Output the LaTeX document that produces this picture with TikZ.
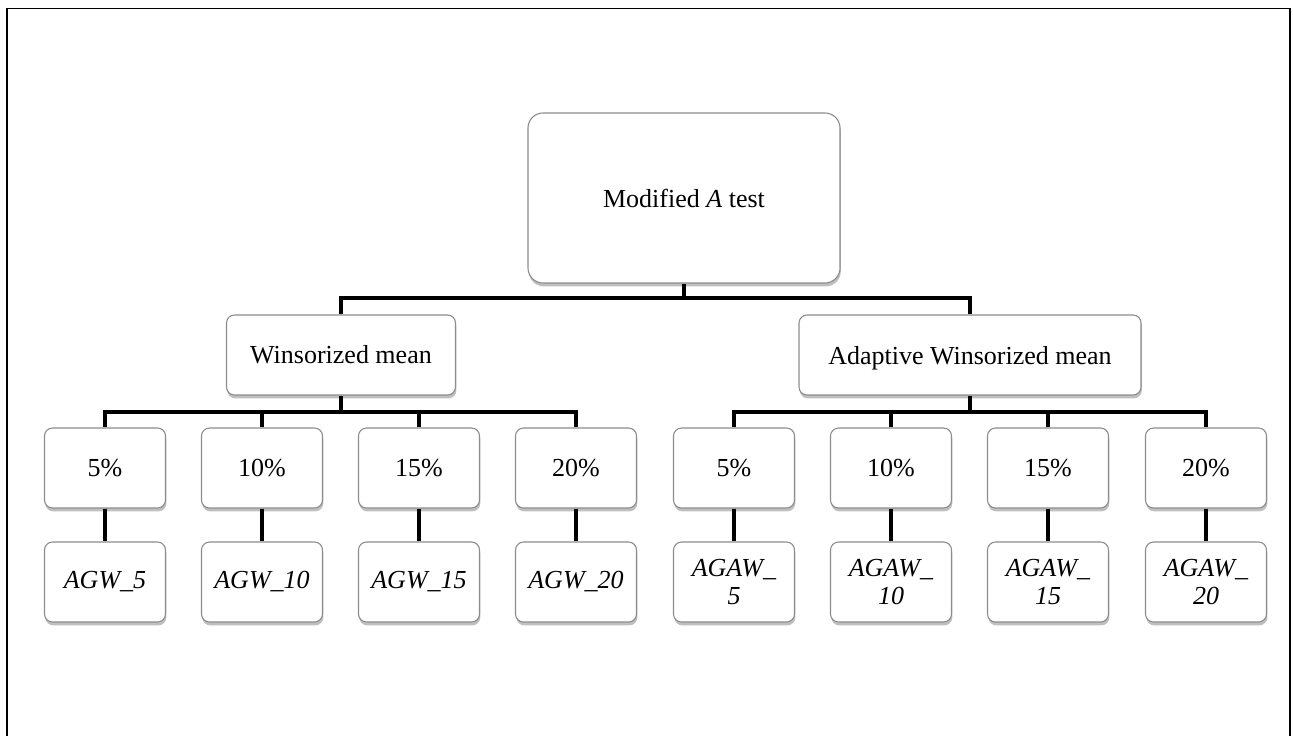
\documentclass[tikz,border=0pt]{standalone}
\usepackage{fontspec}
\setmainfont{Liberation Serif}
\usetikzlibrary{shadows}

\tikzset{
  box/.style={draw=gray!90,line width=0.55pt,fill=white,rounded corners=4pt,
    align=center,inner sep=0pt,minimum width=60.5pt,minimum height=40pt,
    drop shadow={opacity=0.5,shadow xshift=0.4pt,shadow yshift=-1.7pt,fill=gray}},
  link/.style={line width=2pt,line join=miter}
}

\begin{document}
\begin{tikzpicture}[font=\fontsize{13}{14}\selectfont]
      \useasboundingbox (0,0) rectangle (646.5pt,-367.5pt);
      % outer frame, open at the bottom
      \draw[line width=0.9pt] (3.5pt,-370pt) -- (3.5pt,-4.25pt) -- (645pt,-4.25pt) -- (645pt,-370pt);

      \node[box,rounded corners=7.5pt,minimum width=156pt,minimum height=85pt] (top) at (342pt,-99pt) {Modified \textit{A} test};
      \node[box,minimum width=114.5pt] (wm) at (170.5pt,-177.5pt) {Winsorized mean};
      \node[box,minimum width=171pt,text depth=0pt] (awm) at (485pt,-177.5pt) {Adaptive Winsorized mean};

      \coordinate (tbus) at (342pt,-149pt);
      \draw[link] (top.south) -- (tbus);
      \draw[link] (wm.north) |- (tbus) -| (awm.north);

      % winsorized branch
      \foreach \i/\x/\p in {1/52.5/5,2/131/10,3/209.5/15,4/288/20} {
        \node[box] (wp\i) at (\x pt,-234pt) {\p\%};
        \node[box] (wa\i) at (\x pt,-291pt) {\textit{AGW\_\p}};
        \draw[link] (wp\i.south) -- (wa\i.north);
      }
      \coordinate (wbus) at (170.5pt,-206pt);
      \draw[link] (wm.south) -- (wbus);
      \draw[link] (wp1.north) |- (wbus) -| (wp4.north);
      \draw[link] (wp2.north) -- (wp2.north |- wbus);
      \draw[link] (wp3.north) -- (wp3.north |- wbus);

      % adaptive branch
      \foreach \i/\x/\p in {1/367/5,2/445.5/10,3/524/15,4/603/20} {
        \node[box] (ap\i) at (\x pt,-234pt) {\p\%};
        \node[box] (aa\i) at (\x pt,-291pt) {\textit{AGAW\_}\\\textit{\p}};
        \draw[link] (ap\i.south) -- (aa\i.north);
      }
      \coordinate (abus) at (485pt,-206pt);
      \draw[link] (awm.south) -- (abus);
      \draw[link] (ap1.north) |- (abus) -| (ap4.north);
      \draw[link] (ap2.north) -- (ap2.north |- abus);
      \draw[link] (ap3.north) -- (ap3.north |- abus);
    \end{tikzpicture}
\end{document}
